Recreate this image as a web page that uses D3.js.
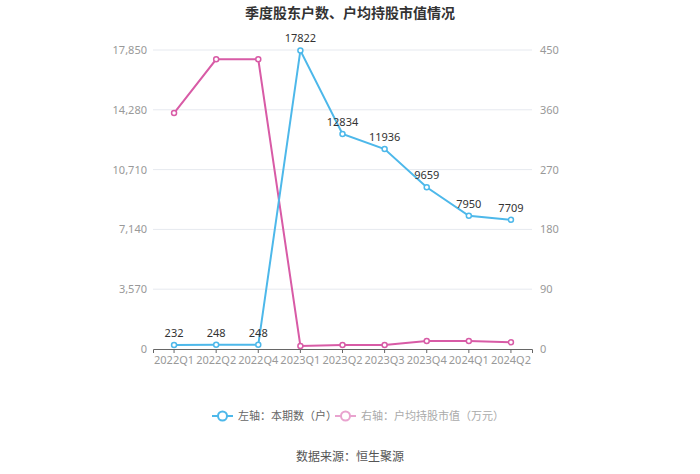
<!DOCTYPE html>
<html><head><meta charset="utf-8">
<script src="https://cdn.jsdelivr.net/npm/d3@7"></script>
<style>body{margin:0;background:#fff;} svg{display:block;font-family:"Noto Sans CJK SC","Noto Sans",sans-serif;}</style>
</head><body>
<svg id="c" width="700" height="474"></svg>
<script>
const categories = ["2022Q1","2022Q2","2022Q4","2023Q1","2023Q2","2023Q3","2023Q4","2024Q1","2024Q2"];
const holders = [232,248,248,17822,12834,11936,9659,7950,7709];
const avgValue = [355,436,436,4.5,6,6,12,12,10];
const leftTicks = [0,3570,7140,10710,14280,17850];
const rightTicks = [0,90,180,270,360,450];
const blue = "#4db8ea", pink = "#d85ba6";

const svg = d3.select("#c");
const L = 153, R = 532, T = 50, B = 349;
const x = d3.scaleBand().domain(categories).range([L,R]);
const yL = d3.scaleLinear().domain([0,17850]).range([B,T]);
const yR = d3.scaleLinear().domain([0,450]).range([B,T]);
const cx = d => x(d) + x.bandwidth()/2;

svg.append("text").attr("x",350).attr("y",18).attr("text-anchor","middle")
  .attr("font-size",14).attr("font-weight","bold").attr("fill","#333").text("季度股东户数、户均持股市值情况");

// gridlines
svg.append("g").selectAll("line").data(leftTicks.slice(1)).join("line")
  .attr("x1",L).attr("x2",R).attr("y1",d=>yL(d)).attr("y2",d=>yL(d))
  .attr("stroke","#e6e9ef").attr("stroke-width",1);

// left axis
const gl = svg.append("g").attr("transform",`translate(${L},0)`)
  .call(d3.axisLeft(yL).tickValues(leftTicks).tickFormat(d3.format(",")).tickSize(0).tickPadding(6));
gl.select(".domain").remove();
gl.selectAll("text").attr("fill","#999").attr("font-size",11).attr("font-family","'Noto Sans',sans-serif");

const gr = svg.append("g").attr("transform",`translate(${R},0)`)
  .call(d3.axisRight(yR).tickValues(rightTicks).tickSize(0).tickPadding(8));
gr.select(".domain").remove();
gr.selectAll("text").attr("fill","#999").attr("font-size",11).attr("font-family","'Noto Sans',sans-serif");

// x axis
const gx = svg.append("g").attr("transform",`translate(0,${B})`)
  .call(d3.axisBottom(x).tickSize(4).tickPadding(3));
gx.select(".domain").attr("stroke","#666");
gx.selectAll(".tick line").attr("stroke","#666");
gx.selectAll("text").attr("fill","#999").attr("font-size",11).attr("font-family","'Noto Sans',sans-serif");

// pink line
const lineR = d3.line().x((d,i)=>cx(categories[i])).y(d=>yR(d));
svg.append("path").datum(avgValue).attr("d",lineR).attr("fill","none").attr("stroke",pink).attr("stroke-width",2);
svg.append("g").selectAll("circle").data(avgValue).join("circle")
  .attr("cx",(d,i)=>cx(categories[i])).attr("cy",d=>yR(d)).attr("r",2.5)
  .attr("fill","#fff").attr("stroke",pink).attr("stroke-width",1.5);

// blue line
const lineL = d3.line().x((d,i)=>cx(categories[i])).y(d=>yL(d));
svg.append("path").datum(holders).attr("d",lineL).attr("fill","none").attr("stroke",blue).attr("stroke-width",2);
svg.append("g").selectAll("circle").data(holders).join("circle")
  .attr("cx",(d,i)=>cx(categories[i])).attr("cy",d=>yL(d)).attr("r",2.5)
  .attr("fill","#fff").attr("stroke",blue).attr("stroke-width",1.5);
svg.append("g").selectAll("text").data(holders).join("text")
  .attr("x",(d,i)=>cx(categories[i])).attr("y",d=>yL(d)-8).attr("text-anchor","middle")
  .attr("font-size",11).attr("fill","#333").attr("font-family","'Noto Sans',sans-serif").text(d=>d);

// legend
const lg = svg.append("g");
const items = [{label:"左轴：本期数（户）",color:blue,tc:"#666",x:212},{label:"右轴：户均持股市值（万元）",color:"#e9a3cf",tc:"#aaa",x:335}];
items.forEach(it=>{
  lg.append("line").attr("x1",it.x).attr("x2",it.x+21).attr("y1",416).attr("y2",416).attr("stroke",it.color).attr("stroke-width",2);
  lg.append("circle").attr("cx",it.x+10.5).attr("cy",416).attr("r",4.5).attr("fill","#fff").attr("stroke",it.color).attr("stroke-width",2);
  lg.append("text").attr("x",it.x+26).attr("y",420).attr("font-size",11).attr("fill",it.tc).text(it.label);
});

svg.append("text").attr("x",350).attr("y",461).attr("text-anchor","middle")
  .attr("font-size",12).attr("fill","#555").text("数据来源：恒生聚源");
</script>
</body></html>
